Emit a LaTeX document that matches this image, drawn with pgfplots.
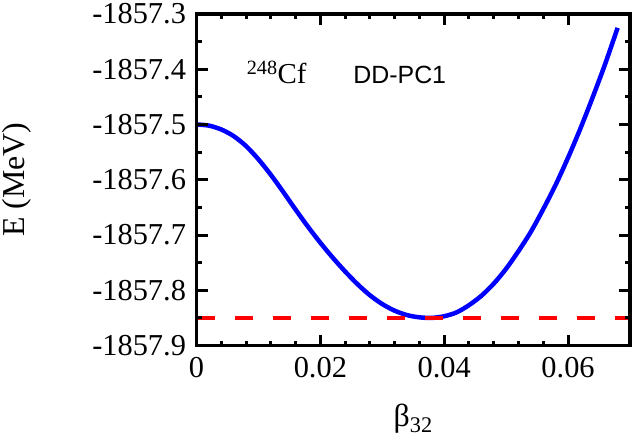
\documentclass[border=0pt]{standalone}
\usepackage{pgfplots}
\pgfplotsset{compat=1.18}
\usepackage{fontspec}
\setmainfont{Liberation Serif}
\newfontfamily\sansf{Liberation Sans}

\begin{document}
\begin{tikzpicture}
\begin{axis}[%
width=433.5bp,
height=331.5bp,
scale only axis,
xmin=0,
xmax=0.07,
ymin=-1857.9,
ymax=-1857.3,
scaled x ticks=false,
scaled y ticks=false,
xtick={0,0.02,0.04,0.06},
xticklabels={0,0.02,0.04,0.06},
minor x tick num=4,
ytick={-1857.9,-1857.8,-1857.7,-1857.6,-1857.5,-1857.4,-1857.3},
yticklabels={-1857.9,-1857.8,-1857.7,-1857.6,-1857.5,-1857.4,-1857.3},
minor y tick num=1,
xtick pos=both,
ytick pos=both,
tick align=inside,
tickwidth=11bp,
subtickwidth=5bp,
every tick/.append style={black,line width=3bp},
every minor tick/.append style={black,line width=3bp},
axis line style={black,line width=3.5bp},
axis on top,
tick label style={font=\fontsize{30.5}{36}\selectfont},
xticklabel style={yshift=-8bp},
yticklabel style={xshift=-7bp},
xlabel={β\textsubscript{32}},
ylabel={E (MeV)},
label style={font=\fontsize{32}{38}\selectfont},
xlabel style={at={(axis description cs:0.5,-0.165)},anchor=north},
ylabel style={at={(axis description cs:-0.415,0.5)},anchor=center,rotate=0},
]
\addplot [color=blue, line width=4.5bp, smooth] table {
x E
0.000 -1857.500
0.002 -1857.502
0.004 -1857.509
0.006 -1857.521
0.008 -1857.539
0.010 -1857.563
0.012 -1857.591
0.014 -1857.622
0.016 -1857.654
0.018 -1857.685
0.020 -1857.714
0.022 -1857.741
0.024 -1857.766
0.026 -1857.789
0.028 -1857.809
0.030 -1857.825
0.032 -1857.837
0.034 -1857.845
0.036 -1857.849
0.038 -1857.850
0.040 -1857.847
0.042 -1857.840
0.044 -1857.827
0.046 -1857.810
0.048 -1857.788
0.050 -1857.761
0.052 -1857.729
0.054 -1857.694
0.056 -1857.653
0.058 -1857.609
0.060 -1857.560
0.062 -1857.507
0.064 -1857.450
0.066 -1857.390
0.068 -1857.325
};
\addplot [color=red, line width=4bp, dash pattern=on 18bp off 20bp] table {
x E
0.000 -1857.85
0.070 -1857.85
};
\node[anchor=base west,inner sep=0pt] at (axis cs:0.0081,-1857.426)
  {\fontsize{29}{34}\selectfont\textsuperscript{248}Cf};
\node[anchor=base west,inner sep=0pt] at (axis cs:0.0253,-1857.426)
  {\sansf\fontsize{25}{30}\selectfont DD-PC1};
\coordinate (bl) at (rel axis cs:0,0);
\coordinate (tr) at (rel axis cs:1,1);
\end{axis}
\pgfresetboundingbox
\useasboundingbox ([shift={(-196.5bp,-99bp)}]bl) rectangle ([shift={(5bp,14bp)}]tr);
\end{tikzpicture}
\end{document}
